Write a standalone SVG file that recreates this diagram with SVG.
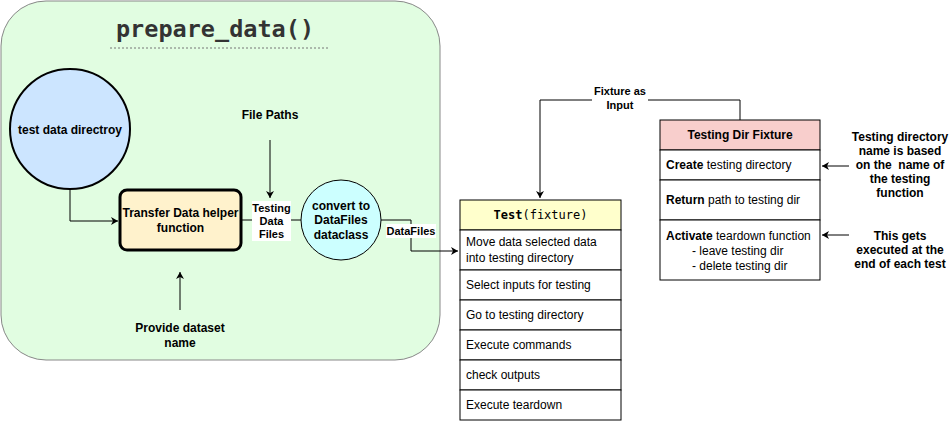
<svg xmlns="http://www.w3.org/2000/svg" width="951" height="422" viewBox="0 0 951 422">
<defs>
<marker id="arr" markerWidth="10" markerHeight="10" refX="8" refY="5" orient="auto" markerUnits="userSpaceOnUse">
<path d="M1,1 L8,5 L1,9 L3,5 Z" fill="#000"/>
</marker>
</defs>
<style>
text{font-family:"Liberation Sans",Arial,sans-serif;fill:#000}
.b{font-weight:bold;font-size:12px}
.s{font-weight:bold;font-size:11px}
.n{font-size:12px}
.c{text-anchor:middle}
.ln{fill:none;stroke:#000;stroke-width:1}
.row{fill:#fff;stroke:#000;stroke-width:1}
.lbl{fill:#fff}
</style>
<g id="container">
<rect x="1" y="1" width="439" height="359" rx="45" ry="45" fill="#e1fde1" stroke="#888" stroke-width="1"/>
<text x="215" y="37" class="c" font-size="23.5" font-weight="bold" style="fill:#333;font-family:'DejaVu Sans Mono','Liberation Mono',monospace">prepare_data()</text>
<line x1="110" y1="48" x2="330" y2="48" stroke="#777" stroke-width="1" stroke-dasharray="2,2"/>
</g>
<g id="connectors">
<path class="ln" d="M70,189 V221 H118" marker-end="url(#arr)"/>
<path class="ln" d="M270,140 V198" marker-end="url(#arr)"/>
<path class="ln" d="M180,310 V272" marker-end="url(#arr)"/>
<path class="ln" d="M241,220 H301"/>
<rect class="lbl" x="252" y="201" width="39" height="40"/>
<text class="s c" x="271.5" y="212">Testing</text>
<text class="s c" x="271.5" y="225">Data</text>
<text class="s c" x="271.5" y="238">Files</text>
<path class="ln" d="M381,220 H411 V251 H458" marker-end="url(#arr)"/>
<rect class="lbl" x="386" y="224" width="50" height="14"/>
<text class="s c" x="411" y="235">DataFiles</text>
<path class="ln" d="M740,120 V100 H540 V198" marker-end="url(#arr)"/>
<rect class="lbl" x="592" y="84" width="56" height="28"/>
<text class="s c" x="620" y="95">Fixture as</text>
<text class="s c" x="620" y="109">Input</text>
<path class="ln" d="M849,166 H822" marker-end="url(#arr)"/>
<path class="ln" d="M849,235 H822" marker-end="url(#arr)"/>
</g>
<g id="test-data-dir">
<circle cx="70" cy="129" r="60" fill="#cce5ff" stroke="#000" stroke-width="2"/>
<text class="b c" x="70" y="134">test data directroy</text>
</g>
<g id="file-paths">
<text class="b c" x="270" y="119">File Paths</text>
</g>
<g id="provide-dataset">
<text class="b c" x="180" y="332">Provide dataset</text>
<text class="b c" x="180" y="347">name</text>
</g>
<g id="transfer">
<rect x="120" y="190" width="121" height="60" rx="7" ry="7" fill="#fff2cc" stroke="#000" stroke-width="3"/>
<text class="b c" x="180.5" y="217">Transfer Data helper</text>
<text class="b c" x="180.5" y="232">function</text>
</g>
<g id="convert">
<circle cx="341" cy="220" r="40" fill="#ccffff" stroke="#000" stroke-width="1"/>
<text class="b c" x="341" y="210">convert to</text>
<text class="b c" x="341" y="224">DataFiles</text>
<text class="b c" x="341" y="239">dataclass</text>
</g>
<g id="test">
<rect x="460" y="200" width="161" height="30" fill="#ffffcc" stroke="#000" stroke-width="1"/>
<text x="540.5" y="219" class="c" font-size="12" style="font-family:'DejaVu Sans Mono','Liberation Mono',monospace"><tspan font-weight="bold">Test</tspan>(fixture)</text>
<rect class="row" x="460" y="230" width="161" height="40"/>
<text class="n" x="466" y="246">Move data selected data</text>
<text class="n" x="466" y="262">into testing directory</text>
<rect class="row" x="460" y="270" width="161" height="30"/>
<text class="n" x="466" y="289">Select inputs for testing</text>
<rect class="row" x="460" y="300" width="161" height="30" stroke-width="2"/>
<text class="n" x="466" y="319">Go to testing directory</text>
<rect class="row" x="460" y="330" width="161" height="30"/>
<text class="n" x="466" y="349">Execute commands</text>
<rect class="row" x="460" y="360" width="161" height="30"/>
<text class="n" x="466" y="379">check outputs</text>
<rect class="row" x="460" y="390" width="161" height="30"/>
<text class="n" x="466" y="409">Execute teardown</text>
</g>
<g id="fixture">
<rect x="660" y="120" width="160" height="30" fill="#f8cecc" stroke="#000" stroke-width="1"/>
<text class="b c" x="740" y="139">Testing Dir Fixture</text>
<rect class="row" x="660" y="150" width="160" height="30"/>
<text class="n" x="666" y="169"><tspan font-weight="bold">Create</tspan> testing directory</text>
<rect class="row" x="660" y="180" width="160" height="40"/>
<text class="n" x="666" y="204"><tspan font-weight="bold">Return</tspan> path to testing dir</text>
<rect class="row" x="660" y="220" width="160" height="60"/>
<text class="n" x="666" y="240"><tspan font-weight="bold">Activate</tspan> teardown function</text>
<text class="n" x="692" y="255">- leave testing dir</text>
<text class="n" x="692" y="270">- delete testing dir</text>
</g>
<g id="note-name">
<text class="b c" x="900" y="141">Testing directory</text>
<text class="b c" x="900" y="155">name is based</text>
<text class="b c" x="900" y="169" xml:space="preserve">on the  name of</text>
<text class="b c" x="900" y="183">the testing</text>
<text class="b c" x="900" y="197">function</text>
</g>
<g id="note-teardown">
<text class="b c" x="900" y="240">This gets</text>
<text class="b c" x="900" y="254">executed at the</text>
<text class="b c" x="900" y="268">end of each test</text>
</g>
</svg>
